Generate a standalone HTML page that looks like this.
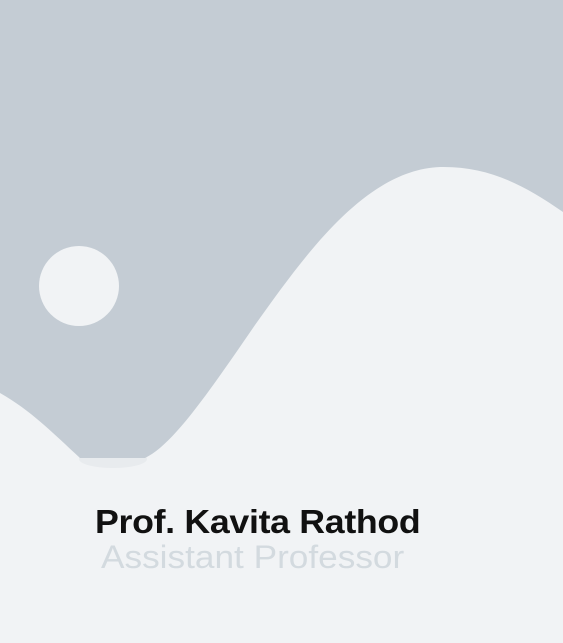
<!DOCTYPE html>
<html><head><meta charset="utf-8"><style>
html,body{margin:0;padding:0;width:563px;height:643px;overflow:hidden;background:#f1f3f5;font-family:"Liberation Sans",sans-serif}
svg{position:absolute;left:0;top:0}
.t{position:absolute;white-space:nowrap;transform-origin:0 0}
</style></head><body>
<svg width="563" height="643">
<rect x="0" y="0" width="563" height="643" fill="#f1f3f5"/>
<ellipse cx="113" cy="459" rx="34" ry="9" fill="#e8ebee"/>
<path fill="#c4ccd4" d="M0,0 H563 V212 C520,182 485,166 440,167 C365,170 305,255 255,325 C205,398 172,445 145,458 H80 C52,432 30,410 0,393 Z"/>
<circle cx="79" cy="286" r="40" fill="#f1f3f5"/>
</svg>
<div class="t" style="left:95px;top:503px;font-size:33px;font-weight:bold;color:#111;letter-spacing:-0.3px;transform:scaleX(1.083)">Prof. Kavita Rathod</div>
<div class="t" style="left:101px;top:539px;font-size:32px;color:#d3dadf;transform:scaleX(1.10)">Assistant Professor</div>
</body></html>
